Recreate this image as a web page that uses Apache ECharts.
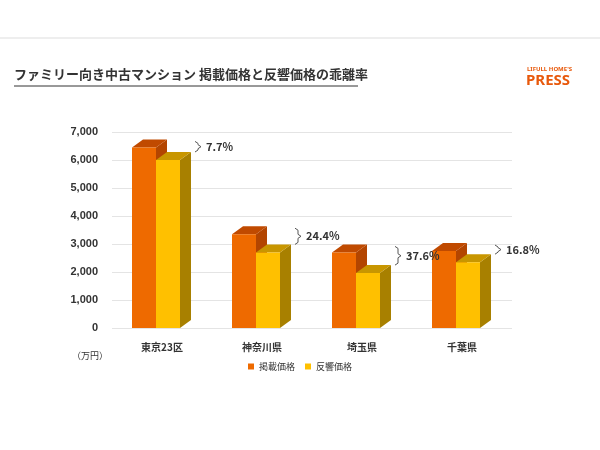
<!DOCTYPE html>
<html><head><meta charset="utf-8">
<script src="https://cdn.jsdelivr.net/npm/echarts@6/dist/echarts.min.js"></script>
<style>html,body{margin:0;background:#fff}#c{width:600px;height:450px}</style>
</head><body><div id="c"></div>
<script>
const categories = ['東京23区','神奈川県','埼玉県','千葉県'];
const listed = [6450, 3350, 2700, 2750];
const response = [6000, 2700, 1960, 2350];
const gaps = ['7.7%','24.4%','37.6%','16.8%'];
const yTicks = [0,1000,2000,3000,4000,5000,6000,7000];

const DX = 11, DY = -8;
function bar3d(offsetSign, cols, withGap){
  return function(params, api){
    const i = api.value(0), v = api.value(1);
    const top = api.coord([i, v]), base = api.coord([i, 0]);
    const w = api.size([1,0])[0]*0.24;
    const x0 = top[0] + (offsetSign<0 ? -w : 0) - 6, x1 = x0 + w;
    const yt = top[1], yb = base[1];
    const ch = [
      {type:'polygon', shape:{points:[[x1,yt],[x1+DX,yt+DY],[x1+DX,yb+DY],[x1,yb]]}, style:{fill:cols[2]}},
      {type:'polygon', shape:{points:[[x0,yt],[x0+DX,yt+DY],[x1+DX,yt+DY],[x1,yt]]}, style:{fill:cols[1]}},
      {type:'rect', shape:{x:x0,y:yt,width:w,height:yb-yt}, style:{fill:cols[0]}}
    ];
    if (withGap){
      const yl = api.coord([i, listed[i]])[1] + DY + 2;
      const yr = yt + DY;
      const bx = x1 + DX + 4, mid = (yl+yr)/2;
      ch.push({type:'polyline', shape:{points:[[bx,yl],[bx+3,yl+2],[bx+3,mid-2],[bx+6,mid],[bx+3,mid+2],[bx+3,yr-2],[bx,yr]]}, style:{stroke:'#555',lineWidth:1,fill:null}});
      ch.push({type:'text', style:{x:bx+11,y:mid,text:gaps[i],fill:'#333',font:'bold 11px "Noto Sans CJK JP", sans-serif',verticalAlign:'middle'}});
    }
    return {type:'group', children:ch};
  };
}
const chart = echarts.init(document.getElementById('c'));
chart.setOption({
  animation:false,
  graphic:[
    {type:'line', shape:{x1:0,y1:38,x2:600,y2:38}, style:{stroke:'#ddd'}},
    {type:'text', left:14, top:68, style:{text:'ファミリー向き中古マンション 掲載価格と反響価格の乖離率', fill:'#333', font:'bold 13px "Noto Sans CJK JP"'}},
    {type:'line', shape:{x1:14,y1:86,x2:358,y2:86}, style:{stroke:'#333',lineWidth:1}},
    {type:'text', left:527, top:66, style:{text:"LIFULL HOME'S", fill:'#e8590c', font:'bold 6px "Noto Sans"'}},
    {type:'text', left:526, top:73, style:{text:'PRESS', fill:'#e8590c', font:'bold 15px "Noto Sans"'}},
    {type:'text', left:72, top:351, style:{text:'（万円）', fill:'#333', font:'9px "Noto Sans CJK JP"'}}
  ],
  legend:{bottom:74, left:'center', itemWidth:6, itemHeight:6, itemGap:10, icon:'rect',
    textStyle:{fontSize:9, color:'#333', fontFamily:'Noto Sans CJK JP'},
    data:[{name:'掲載価格',itemStyle:{color:'#ee6a00'}},{name:'反響価格',itemStyle:{color:'#ffc000'}}]},
  grid:{left:112, right:88, top:132, bottom:122},
  xAxis:{type:'category', data:categories, axisLine:{show:false}, axisTick:{show:false},
    axisLabel:{fontSize:10, fontWeight:'bold', color:'#333', margin:14, fontFamily:'Noto Sans CJK JP'}},
  yAxis:{type:'value', min:0, max:7000, interval:1000,
    axisLabel:{fontSize:11, fontWeight:'bold', color:'#333', margin:14, formatter:v=>v.toLocaleString('en-US')},
    splitLine:{lineStyle:{color:'#e4e4e4'}}},
  series:[
    {name:'掲載価格', type:'custom', renderItem:bar3d(-1,['#ee6a00','#c04a00','#b34500'],false),
      itemStyle:{color:'#ee6a00'}, data:listed.map((v,i)=>[i,v]), encode:{x:0,y:1}},
    {name:'反響価格', type:'custom', renderItem:bar3d(1,['#ffc000','#c89600','#a88000'],true),
      itemStyle:{color:'#ffc000'}, data:response.map((v,i)=>[i,v]), encode:{x:0,y:1}}
  ]
});
</script></body></html>
